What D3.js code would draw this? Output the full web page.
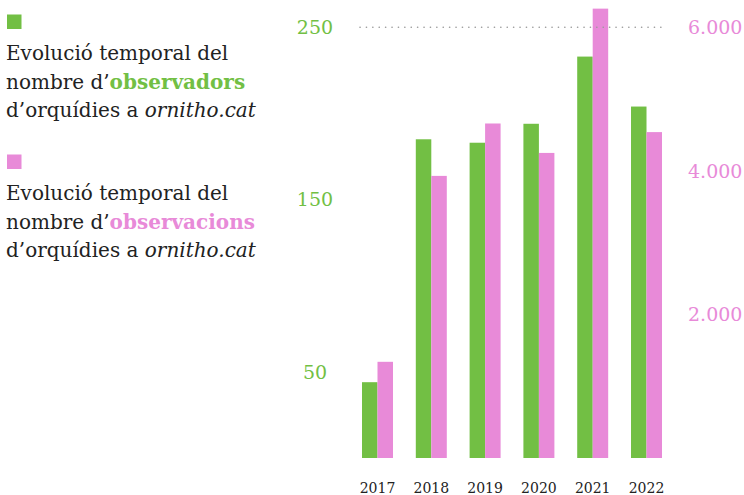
<!DOCTYPE html>
<html>
<head>
<meta charset="utf-8">
<script src="https://cdn.jsdelivr.net/npm/d3@7"></script>
<style>
  body { margin: 0; background: #fff; }
  svg { display: block; }
</style>
</head>
<body>
<div id="chart"></div>
<script>
// chart data
let years = ["2017", "2018", "2019", "2020", "2021", "2022"];
let observadors = [44, 185, 183, 194, 233, 204];
let observacions = [1340, 3930, 4660, 4250, 6260, 4540];
let leftTicks = [50, 150, 250];
let rightTicks = [2000, 4000, 6000];
let rightTickLabels = ["2.000", "4.000", "6.000"];

let green = "#72bf44";
let pink = "#e88ad8";
let ink = "#222";
let font = "'DejaVu Serif', serif";

let svg = d3.select("#chart").append("svg")
  .attr("width", 744)
  .attr("height", 495);

//Scales
let x = d3.scaleBand()
  .domain(years)
  .range([362, 662])
  .paddingInner(0.424)
  .paddingOuter(0);

let sub = d3.scaleBand()
  .domain(["a", "b"])
  .range([0, x.bandwidth()]);

let yLeft = d3.scaleLinear()
  .domain([0, 250])
  .range([458, 27.3]);

let yRight = d3.scaleLinear()
  .domain([0, 6000])
  .range([458, 27.3]);

//Bars for observers (left axis)
svg.append("g").selectAll("rect")
  .data(observadors)
  .enter().append("rect")
  .attr("x", (d, i) => x(years[i]) + sub("a"))
  .attr("y", d => yLeft(d))
  .attr("width", sub.bandwidth())
  .attr("height", d => yLeft(0) - yLeft(d))
  .attr("fill", green);

//Bars for observations (right axis)
svg.append("g").selectAll("rect")
  .data(observacions)
  .enter().append("rect")
  .attr("x", (d, i) => x(years[i]) + sub("b"))
  .attr("y", d => yRight(d))
  .attr("width", sub.bandwidth())
  .attr("height", d => yRight(0) - yRight(d))
  .attr("fill", pink);

//Dotted line at the top tick
svg.append("line")
  .attr("x1", 360)
  .attr("x2", 666)
  .attr("y1", yLeft(250))
  .attr("y2", yLeft(250))
  .attr("stroke", "#999")
  .attr("stroke-width", 1.6)
  .attr("stroke-linecap", "round")
  .attr("stroke-dasharray", "0.1 6.3");

//Left tick labels
svg.append("g").selectAll("text")
  .data(leftTicks)
  .enter().append("text")
  .attr("x", 315)
  .attr("y", d => yLeft(d))
  .attr("dy", "0.36em")
  .attr("text-anchor", "middle")
  .style("font-family", font)
  .style("font-size", "19px")
  .attr("fill", green)
  .text(d => d);

//Right tick labels
svg.append("g").selectAll("text")
  .data(rightTicks)
  .enter().append("text")
  .attr("x", 688)
  .attr("y", d => yRight(d))
  .attr("dy", "0.36em")
  .style("font-family", font)
  .style("font-size", "19px")
  .attr("fill", pink)
  .text((d, i) => rightTickLabels[i]);

//Year labels
svg.append("g").selectAll("text")
  .data(years)
  .enter().append("text")
  .attr("x", d => x(d) + x.bandwidth() / 2)
  .attr("y", 493)
  .attr("text-anchor", "middle")
  .style("font-family", font)
  .style("font-size", "14px")
  .attr("fill", ink)
  .text(d => d);

//Legend blocks
let legend = [
  { color: green, word: "observadors", top: 0 },
  { color: pink, word: "observacions", top: 140 }
];

let lg = svg.append("g").selectAll("g")
  .data(legend)
  .enter().append("g")
  .attr("transform", d => "translate(0," + d.top + ")");

lg.append("rect")
  .attr("x", 7)
  .attr("y", 14.5)
  .attr("width", 14.5)
  .attr("height", 14.5)
  .attr("fill", d => d.color);

let txt = lg.append("text")
  .style("font-family", font)
  .style("font-size", "20px")
  .attr("fill", ink);

txt.append("tspan").attr("x", 6).attr("y", 60).text("Evolució temporal del");
txt.append("tspan").attr("x", 6).attr("y", 88.5).text("nombre d’");
txt.append("tspan")
  .style("font-weight", "bold")
  .attr("fill", d => d.color)
  .text(d => d.word);
txt.append("tspan").attr("x", 6).attr("y", 117).text("d’orquídies a ");
txt.append("tspan").style("font-style", "italic").text("ornitho.cat");
</script>
</body>
</html>
